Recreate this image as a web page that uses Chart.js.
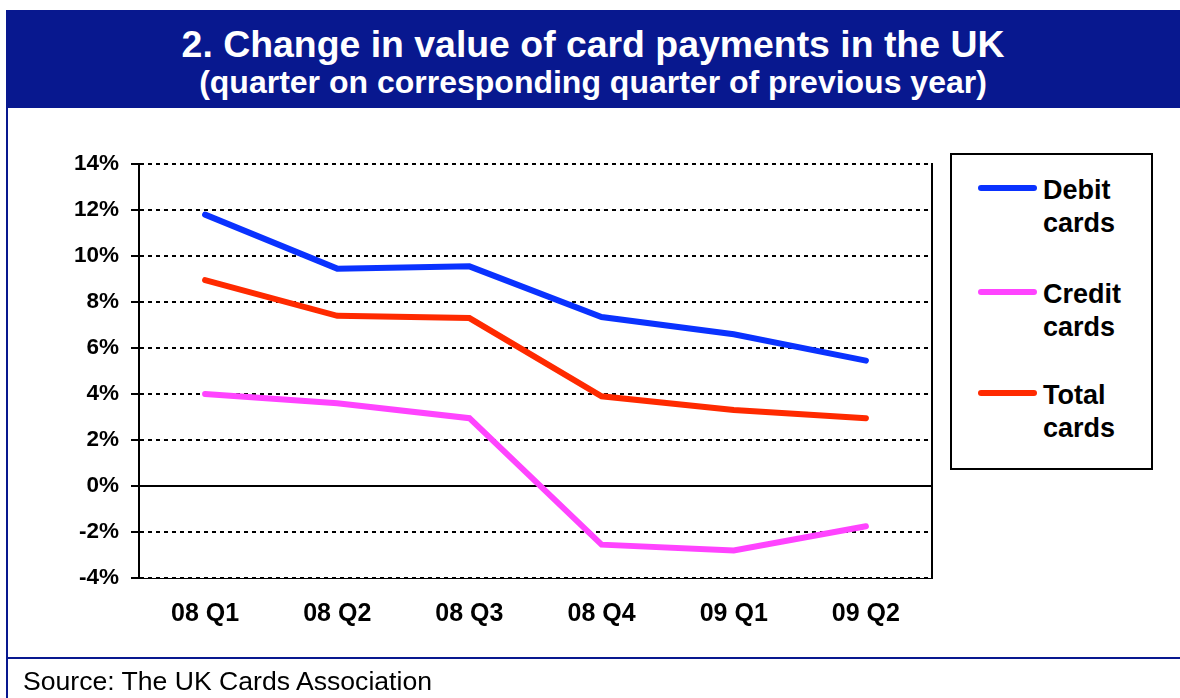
<!DOCTYPE html>
<html>
<head>
<meta charset="utf-8">
<script src="https://cdn.jsdelivr.net/npm/chart.js@4/dist/chart.umd.min.js"></script>
<style>
  html, body { margin: 0; padding: 0; background: #fff; }
  body { width: 1180px; height: 698px; position: relative; overflow: hidden; font-family: "Liberation Sans", Arial, sans-serif; }
  #banner { position: absolute; left: 6px; top: 10px; width: 1174px; height: 98px; background: #08188f; }
  .ttl { position: absolute; left: 6px; width: 1174px; text-align: center; color: #fff; font-weight: bold; white-space: nowrap; }
  #t1 { top: 26px; font-size: 37.4px; line-height: 37px; }
  #t2 { top: 66px; font-size: 32px; line-height: 32px; }
  #vline { position: absolute; left: 6px; top: 10px; width: 2px; height: 688px; background: #08188f; }
  #hline { position: absolute; left: 6px; top: 657px; width: 1174px; height: 2px; background: #08188f; }
  #source { position: absolute; left: 23px; top: 668px; font-size: 26.6px; line-height: 26px; color: #000; white-space: nowrap; }
  #chartWrap { position: absolute; left: 0; top: 0; width: 1180px; height: 698px; }
  #legend { position: absolute; left: 950px; top: 153px; width: 199px; height: 313px; border: 2px solid #000; background: #fff; }
  .lgLine { position: absolute; left: 978px; width: 59px; height: 6px; border-radius: 3px; }
  .lgText { position: absolute; left: 1043px; font-size: 27px; line-height: 33px; font-weight: bold; color: #000; white-space: nowrap; }
</style>
</head>
<body>
<div id="chartWrap"><canvas id="c" width="1180" height="698"></canvas></div>
<div id="banner"></div>
<div id="t1" class="ttl">2. Change in value of card payments in the UK</div>
<div id="t2" class="ttl">(quarter on corresponding quarter of previous year)</div>
<div id="vline"></div>
<div id="hline"></div>
<div id="source">Source: The UK Cards Association</div>
<div id="legend"></div>
<div id="legendItems"></div>
<script>
// ---- data ----
const categories = ['08 Q1', '08 Q2', '08 Q3', '08 Q4', '09 Q1', '09 Q2'];
const debitCards  = [11.8, 9.45, 9.55, 7.35, 6.6, 5.45];
const creditCards = [4.0, 3.6, 2.95, -2.55, -2.8, -1.75];
const totalCards  = [8.95, 7.4, 7.3, 3.9, 3.3, 2.95];
const seriesNames = ['Debit cards', 'Credit cards', 'Total cards'];
const seriesColors = ['#0a32ff', '#ff44ff', '#ff2a00'];
const yTicks = [-4, -2, 0, 2, 4, 6, 8, 10, 12, 14];

const FONT = '"Liberation Sans", Arial, sans-serif';

const frame = {
  id: 'frame',
  beforeDatasetsDraw(chart) {
    const { ctx, chartArea, scales } = chart;
    ctx.save();
    ctx.strokeStyle = '#000';
    ctx.lineWidth = 2;
    const y0 = Math.round(scales.y.getPixelForValue(0));
    ctx.beginPath();
    ctx.moveTo(chartArea.left, y0);
    ctx.lineTo(chartArea.right, y0);
    ctx.stroke();
    ctx.beginPath();
    ctx.moveTo(chartArea.right, chartArea.top - 1);
    ctx.lineTo(chartArea.right, chartArea.bottom + 1);
    ctx.stroke();
    ctx.restore();
  }
};

const seriesData = [debitCards, creditCards, totalCards];
new Chart(document.getElementById('c'), {
  type: 'line',
  data: {
    labels: categories,
    datasets: seriesNames.map((n, i) => ({
      label: n,
      data: seriesData[i],
      borderColor: seriesColors[i],
      backgroundColor: seriesColors[i],
      borderWidth: 6,
      pointRadius: 0,
      tension: 0,
      borderCapStyle: 'round',
      borderJoinStyle: 'miter',
      fill: false
    }))
  },
  options: {
    responsive: false,
    animation: false,
    devicePixelRatio: 1,
    layout: { padding: { left: 0, top: 164, right: 248, bottom: 40 } },
    plugins: { legend: { display: false }, tooltip: { enabled: false }, title: { display: false } },
    scales: {
      x: {
        type: 'category',
        offset: true,
        grid: { display: false, drawTicks: false },
        border: { display: true, color: '#000', width: 1 },
        ticks: { color: '#000', font: { family: FONT, size: 25, weight: 'bold' }, padding: 21, maxRotation: 0 },
        afterFit(s) { s.height = 80; }
      },
      y: {
        min: -4, max: 14,
        afterBuildTicks(s) { s.ticks = yTicks.map(v => ({ value: v })); },
        grid: { color: '#000', lineWidth: 2, drawTicks: true, tickLength: 8, tickColor: '#000', tickWidth: 2 },
        border: { display: true, color: '#000', width: 2, dash: [4, 4] },
        ticks: { color: '#000', font: { family: FONT, size: 22.5, weight: 'bold' }, padding: 12, callback: v => v + '%' },
        afterFit(s) { s.width = 139; }
      }
    }
  },
  plugins: [frame]
});

// ---- legend (HTML, built from series arrays) ----
const lgRowsY = [188, 292, 393];
const lg = document.getElementById('legendItems');
seriesNames.forEach((n, i) => {
  const line = document.createElement('div');
  line.className = 'lgLine';
  line.style.top = (lgRowsY[i] - 3) + 'px';
  line.style.background = seriesColors[i];
  lg.appendChild(line);
  const t = document.createElement('div');
  t.className = 'lgText';
  t.style.top = (lgRowsY[i] - 14) + 'px';
  t.innerHTML = n.split(' ').join('<br>');
  lg.appendChild(t);
});
</script>
</body>
</html>
